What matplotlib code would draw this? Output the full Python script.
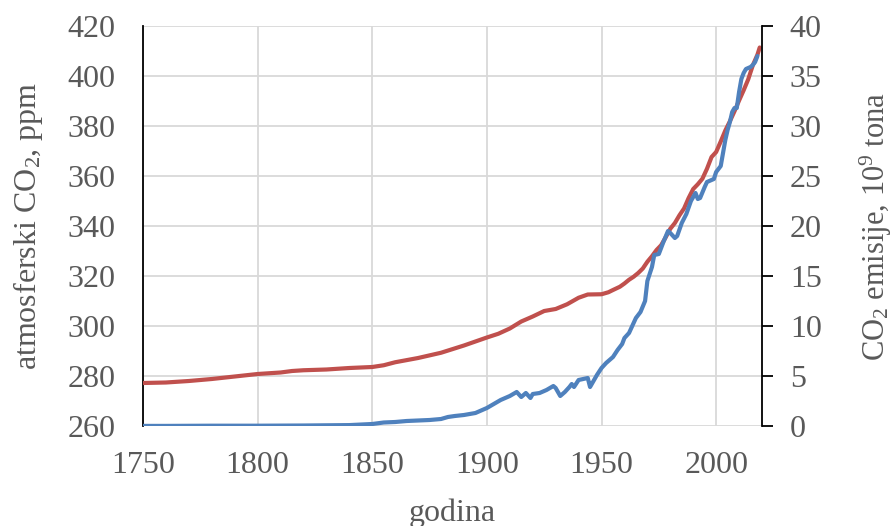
import matplotlib
matplotlib.use("Agg")
import matplotlib.pyplot as plt

plt.rcParams["font.family"] = ["Liberation Serif", "DejaVu Serif"]
plt.rcParams["mathtext.fontset"] = "custom"
plt.rcParams["mathtext.rm"] = "Liberation Serif"
plt.rcParams["mathtext.it"] = "Liberation Serif:italic"

# ---- data: atmospheric CO2 (ppm), left axis ----
co2_years = [1750, 1760, 1770, 1780, 1790, 1800, 1810, 1815, 1820, 1830, 1840,
             1850, 1855, 1860, 1870, 1880, 1890, 1900, 1905, 1910, 1915, 1920,
             1925, 1930, 1935, 1940, 1944, 1950, 1953, 1955, 1958, 1960, 1962,
             1964, 1966, 1968, 1970, 1972, 1974, 1976, 1978, 1980, 1982, 1984,
             1986, 1988, 1990, 1992, 1994, 1996, 1998, 2000, 2002, 2004, 2006,
             2008, 2010, 2012, 2014, 2016, 2018, 2019]
co2_ppm = [277.2, 277.4, 278.0, 278.8, 279.8, 280.8, 281.4, 282.0, 282.3, 282.6,
           283.2, 283.6, 284.3, 285.5, 287.2, 289.3, 292.2, 295.4, 296.9, 299.0,
           301.8, 303.8, 306.0, 306.8, 308.7, 311.3, 312.6, 312.7, 313.5, 314.4,
           315.7, 317.0, 318.5, 319.7, 321.2, 323.0, 325.7, 327.9, 330.4, 332.3,
           335.5, 338.9, 341.2, 344.3, 347.0, 351.2, 354.8, 356.7, 358.9, 362.9,
           367.6, 369.6, 373.8, 378.2, 381.9, 385.9, 390.2, 394.3, 398.7, 404.3,
           408.5, 411.4]

# ---- data: CO2 emissions (10^9 t), right axis ----
em_years = [1750, 1760, 1770, 1780, 1790, 1800, 1810, 1820, 1830, 1840, 1850,
            1855, 1860, 1865, 1870, 1875, 1880, 1883, 1886, 1890, 1895, 1900,
            1903, 1906, 1910, 1913, 1915, 1917, 1919, 1920, 1923, 1926, 1929,
            1930, 1932, 1934, 1936, 1937, 1938, 1940, 1942, 1944, 1945, 1946,
            1948, 1950, 1952, 1955, 1957, 1959, 1960, 1962, 1963, 1965, 1967,
            1969, 1970, 1972, 1973, 1975, 1977, 1979, 1980, 1982, 1983, 1985,
            1987, 1989, 1990, 1991, 1992, 1993, 1995, 1996, 1998, 1999, 2000,
            2002, 2003, 2004, 2005, 2006, 2007, 2008, 2009, 2010, 2011, 2012,
            2013, 2014, 2015, 2016, 2017, 2018]
em_gt = [0.01, 0.01, 0.02, 0.03, 0.03, 0.03, 0.04, 0.05, 0.07, 0.09, 0.2,
         0.35, 0.4, 0.5, 0.55, 0.6, 0.7, 0.9, 1.0, 1.1, 1.3, 1.8,
         2.2, 2.6, 3.0, 3.4, 2.9, 3.3, 2.8, 3.2, 3.3, 3.6, 4.0,
         3.8, 3.0, 3.4, 3.9, 4.2, 3.9, 4.6, 4.7, 4.8, 3.9, 4.3,
         5.1, 5.8, 6.3, 6.9, 7.6, 8.2, 8.8, 9.3, 9.8, 10.8, 11.4,
         12.5, 14.5, 15.9, 17.1, 17.2, 18.4, 19.5, 19.3, 18.8, 19.0, 20.3,
         21.2, 22.5, 22.9, 23.3, 22.7, 22.8, 23.9, 24.4, 24.6, 24.7, 25.4,
         26.0, 27.3, 28.6, 29.6, 30.4, 31.4, 31.8, 31.8, 33.4, 34.7, 35.3,
         35.7, 35.8, 35.9, 36.1, 36.4, 37.0]

red = "#C0504D"
blue = "#4F81BD"
txt = "#595959"
grid_c = "#D9D9D9"

fig = plt.figure(figsize=(8.95, 5.26), dpi=100)
ax = fig.add_axes([143 / 895, 1 - 426 / 526, (762 - 143) / 895, 400 / 526])
ax2 = ax.twinx()

ax.plot(co2_years, co2_ppm, color=red, lw=3.0, solid_capstyle="round", zorder=3)
ax2.plot(em_years, em_gt, color=blue, lw=3.0, solid_capstyle="round", zorder=3)

ax.set_xlim(1750, 2020)
ax.set_ylim(260, 420)
ax2.set_ylim(0, 40)
ax.set_xticks(range(1750, 2001, 50))
ax.set_yticks(range(260, 421, 20))
ax2.set_yticks(range(0, 41, 5))

ax.grid(True, color=grid_c, lw=1.3)
ax.set_axisbelow(True)

for s in ["top", "bottom"]:
    ax.spines[s].set_visible(False)
    ax2.spines[s].set_visible(False)
ax.spines["right"].set_visible(False)
ax2.spines["left"].set_visible(False)
ax.spines["left"].set_color("black")
ax.spines["left"].set_linewidth(1.3)
ax2.spines["right"].set_color("black")
ax2.spines["right"].set_linewidth(1.3)

ax.tick_params(axis="both", length=0, labelsize=23, labelcolor=txt)
ax.tick_params(axis="y", pad=20)
ax.tick_params(axis="x", pad=18)
ax2.tick_params(axis="y", length=8, width=1.3, color="black", direction="out",
                labelsize=23, labelcolor=txt, pad=12)

ax.set_xlabel("godina", fontsize=23, color=txt, labelpad=13)
ax.set_ylabel("atmosferski CO$_2$, ppm", fontsize=23, color=txt, labelpad=16)
ax2.set_ylabel("CO$_2$ emisije, 10$^9$ tona", fontsize=22, color=txt,
               rotation=90, labelpad=26)

fig.savefig("out.png", dpi=100)
